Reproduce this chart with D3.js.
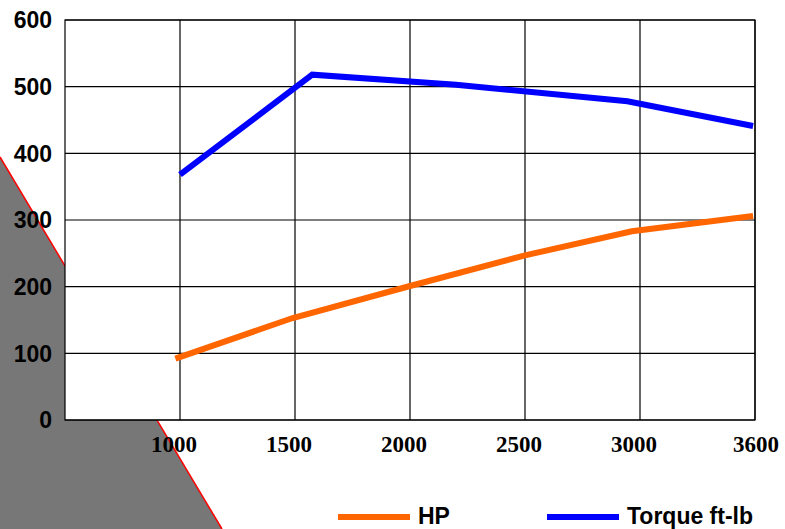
<!DOCTYPE html>
<html>
<head>
<meta charset="utf-8">
<script src="https://cdn.jsdelivr.net/npm/d3@7"></script>
<style>
  body { margin: 0; background: #fff; }
</style>
</head>
<body>
<div id="chart"></div>
<script>
// chart data
var rpmTicks = [1000, 1500, 2000, 2500, 3000, 3600];
var valueTicks = [0, 100, 200, 300, 400, 500, 600];

var hpRpm = [980, 1490, 2000, 2500, 2965, 3590];
var hpValues = [92, 153, 201, 247, 283, 306];

var torqueRpm = [1000, 1575, 2200, 2945, 3590];
var torqueValues = [368, 518, 503, 478, 441];

var seriesNames = ["HP", "Torque ft-lb"];
var seriesColors = ["#ff6600", "#0000ff"];

var svgWidth = 785;
var svgHeight = 529;

var margin = { top: 20, right: 30, bottom: 109, left: 65 };
var width = svgWidth - margin.left - margin.right;
var height = svgHeight - margin.top - margin.bottom;

var svg = d3.select("#chart")
  .append("svg")
  .attr("width", svgWidth)
  .attr("height", svgHeight);

// grey slanted backdrop in the lower left corner
svg.append("polygon")
  .attr("points", "0,157 222,529 0,529")
  .attr("fill", "#777777");
svg.append("line")
  .attr("x1", 0).attr("y1", 157)
  .attr("x2", 222).attr("y2", 529)
  .attr("stroke", "#ff0000")
  .attr("stroke-width", 1.5);

var chartGroup = svg.append("g")
  .attr("transform", `translate(${margin.left}, ${margin.top})`);

// x: evenly spaced categories, one empty slot before the first tick
var step = width / rpmTicks.length;
var xScale = d3.scaleLinear()
  .domain([500].concat(rpmTicks))
  .range(d3.range(rpmTicks.length + 1).map(i => i * step));

var yScale = d3.scaleLinear()
  .domain([0, 600])
  .range([height, 0]);

chartGroup.append("rect")
  .attr("width", width)
  .attr("height", height)
  .attr("fill", "#fff");

// gridlines
chartGroup.selectAll("line.hgrid")
  .data(valueTicks)
  .enter()
  .append("line")
  .attr("class", "hgrid")
  .attr("x1", 0)
  .attr("x2", width)
  .attr("y1", d => yScale(d))
  .attr("y2", d => yScale(d))
  .attr("stroke", "#000")
  .attr("stroke-width", 1.2);

chartGroup.selectAll("line.vgrid")
  .data(rpmTicks)
  .enter()
  .append("line")
  .attr("class", "vgrid")
  .attr("x1", d => xScale(d))
  .attr("x2", d => xScale(d))
  .attr("y1", 0)
  .attr("y2", height)
  .attr("stroke", "#000")
  .attr("stroke-width", 1.2);

chartGroup.append("rect")
  .attr("width", width)
  .attr("height", height)
  .attr("fill", "none")
  .attr("stroke", "#000")
  .attr("stroke-width", 1.2);

// lines
var series = [
  hpRpm.map((r, i) => ({ rpm: r, value: hpValues[i] })),
  torqueRpm.map((r, i) => ({ rpm: r, value: torqueValues[i] }))
];

var line = d3.line()
  .x(d => xScale(d.rpm))
  .y(d => yScale(d.value));

chartGroup.selectAll("path.series")
  .data(series)
  .enter()
  .append("path")
  .attr("class", "series")
  .attr("d", line)
  .attr("fill", "none")
  .attr("stroke", (d, i) => seriesColors[i])
  .attr("stroke-width", 6)
  .attr("stroke-linejoin", "miter");

// y tick labels
chartGroup.selectAll("text.ylab")
  .data(valueTicks)
  .enter()
  .append("text")
  .attr("class", "ylab")
  .attr("x", -13)
  .attr("y", d => yScale(d))
  .attr("dy", "0.36em")
  .attr("text-anchor", "end")
  .style("font-family", "'Liberation Sans', Arial, sans-serif")
  .style("font-weight", "bold")
  .style("font-size", "23px")
  .text(d => d);

// x tick labels
chartGroup.selectAll("text.xlab")
  .data(rpmTicks)
  .enter()
  .append("text")
  .attr("class", "xlab")
  .attr("x", d => xScale(d))
  .attr("dx", (d, i) => i === rpmTicks.length - 1 ? 1 : -6)
  .attr("y", height + 32)
  .attr("text-anchor", "middle")
  .style("font-family", "'Liberation Serif', 'Times New Roman', serif")
  .style("font-weight", "bold")
  .style("font-size", "23px")
  .text(d => d);

// legend
var legendX = [338, 547];
var legend = svg.selectAll("g.legend")
  .data(seriesNames)
  .enter()
  .append("g")
  .attr("class", "legend")
  .attr("transform", (d, i) => `translate(${legendX[i]}, 517)`);

legend.append("line")
  .attr("x1", 0)
  .attr("x2", 72)
  .attr("stroke", (d, i) => seriesColors[i])
  .attr("stroke-width", 6);

legend.append("text")
  .attr("x", 80)
  .attr("y", 7)
  .style("font-family", "'Liberation Sans', Arial, sans-serif")
  .style("font-weight", "bold")
  .style("font-size", "23px")
  .text(d => d);
</script>
</body>
</html>
